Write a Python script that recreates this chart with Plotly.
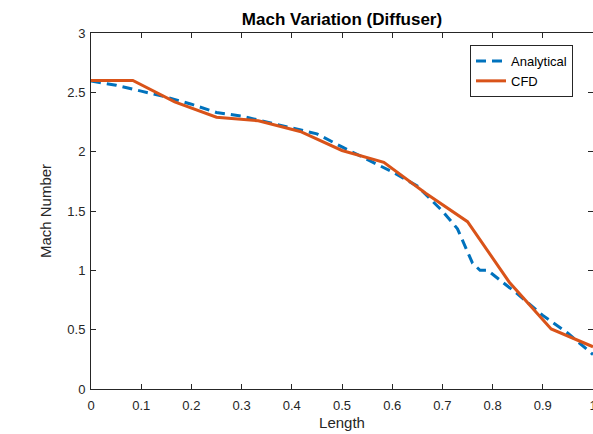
import plotly.graph_objects as go

# Nondimensional position along the diffuser
length_analytical = [0, 0.05, 0.1, 0.15, 0.2, 0.25, 0.3, 0.35, 0.4, 0.45, 0.5,
                     0.55, 0.6, 0.65, 0.7, 0.73, 0.76, 0.775, 0.79, 0.85, 0.9,
                     0.95, 1.0]
mach_analytical = [2.595, 2.56, 2.51, 2.46, 2.40, 2.33, 2.30, 2.25, 2.20, 2.15,
                   2.04, 1.935, 1.83, 1.71, 1.50, 1.35, 1.06, 1.00, 1.00, 0.80,
                   0.62, 0.47, 0.29]

length_cfd = [0, 1/12, 2/12, 3/12, 4/12, 5/12, 6/12, 7/12, 8/12, 9/12, 10/12,
              11/12, 1.0]
mach_cfd = [2.6, 2.6, 2.42, 2.29, 2.26, 2.17, 2.01, 1.91, 1.65, 1.41, 0.90,
            0.506, 0.356]

x_ticks = [0, 0.1, 0.2, 0.3, 0.4, 0.5, 0.6, 0.7, 0.8, 0.9, 1.0]
x_labels = ["0", "0.1", "0.2", "0.3", "0.4", "0.5", "0.6", "0.7", "0.8", "0.9", "1"]
y_ticks = [0, 0.5, 1, 1.5, 2, 2.5, 3]
y_labels = ["0", "0.5", "1", "1.5", "2", "2.5", "3"]

FONT = "Liberation Sans, Arial, sans-serif"
AXIS_COLOR = "#262626"

fig = go.Figure()
fig.add_trace(go.Scatter(
    x=length_analytical, y=mach_analytical, mode="lines", name="Analytical",
    line=dict(color="#0072BD", width=3, dash="10px,6px"),
))
fig.add_trace(go.Scatter(
    x=length_cfd, y=mach_cfd, mode="lines", name="CFD",
    line=dict(color="#D95319", width=3),
))

axis_common = dict(
    showgrid=False, zeroline=False, showline=True, linecolor=AXIS_COLOR,
    linewidth=1, mirror="ticks", ticks="inside", ticklen=5, tickwidth=1,
    tickcolor=AXIS_COLOR, automargin=False,
    tickfont=dict(family=FONT, size=13, color=AXIS_COLOR),
)

fig.update_layout(
    width=593, height=434,
    margin=dict(l=91, r=0, t=33, b=45),
    paper_bgcolor="white", plot_bgcolor="white",
    title=dict(text="<b>Mach Variation (Diffuser)</b>", x=(91 + 593) / 2 / 593,
               xanchor="center", y=1 - 19 / 434, yanchor="middle",
               font=dict(family=FONT, size=17, color="black")),
    xaxis=dict(range=[0, 1], tickvals=x_ticks, ticktext=x_labels,
               ticklabeloverflow="allow", ticklabelstandoff=4,
               title=dict(text="Length", standoff=5,
                          font=dict(family=FONT, size=15, color=AXIS_COLOR)),
               **axis_common),
    yaxis=dict(range=[0, 3], tickvals=y_ticks, ticktext=y_labels,
               ticklabelstandoff=2,
               title=dict(text="Mach Number", standoff=12,
                          font=dict(family=FONT, size=15, color=AXIS_COLOR)),
               **axis_common),
    legend=dict(x=(470 - 91) / 502, y=(389 - 45) / 356, xanchor="left",
                yanchor="top", bgcolor="white", bordercolor=AXIS_COLOR,
                borderwidth=1, font=dict(family=FONT, size=13, color="black"),
                tracegroupgap=0, itemwidth=30),
    showlegend=True,
)

fig.write_html("out.html")
